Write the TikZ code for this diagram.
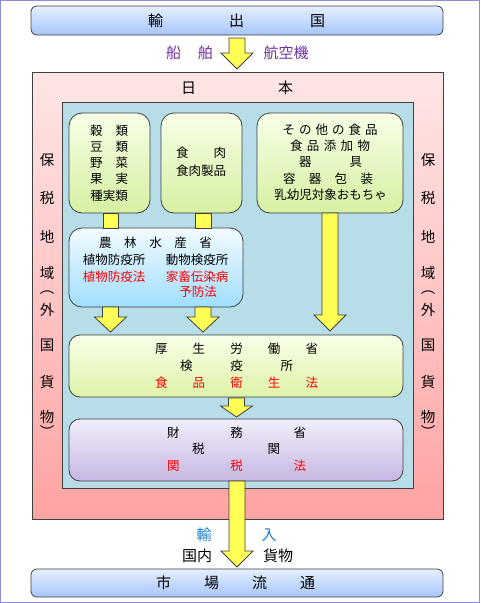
\documentclass[tikz,border=0pt]{standalone}
\usepackage{fontspec}
\setmainfont{Noto Sans CJK JP}
\definecolor{framecol}{HTML}{8C8CE6}
\definecolor{edge}{HTML}{404040}
\definecolor{titletop}{HTML}{E6EFFF}
\definecolor{titlebot}{HTML}{A6C6FA}
\definecolor{japtop}{HTML}{FFE6E6}
\definecolor{japbot}{HTML}{FFA3A3}
\definecolor{innerfill}{HTML}{B6DDE8}
\definecolor{greentop}{HTML}{F6FFE6}
\definecolor{greenbot}{HTML}{D6F0A2}
\definecolor{nongtop}{HTML}{F2FBFF}
\definecolor{nongbot}{HTML}{A0DEFF}
\definecolor{kotop}{HTML}{F8FFE8}
\definecolor{kobot}{HTML}{DEF3A8}
\definecolor{zatop}{HTML}{F2EEFB}
\definecolor{zabot}{HTML}{C7B6E3}
\definecolor{arrowfill}{HTML}{FFFF55}
\definecolor{lawred}{HTML}{FF0000}
\definecolor{shipcol}{HTML}{7030A0}
\definecolor{importcol}{HTML}{1A7CCF}
\tikzset{
  every node/.style={inner sep=0pt, outer sep=0pt},
  body/.style={font=\fontsize{12.5}{14}\selectfont},
  redtext/.style={body, text=lawred},
  big/.style={font=\fontsize{15}{17}\selectfont},
  side/.style={font=\fontsize{14.5}{16}\selectfont},
  titlebox/.style={draw=edge, line width=0.8pt, rounded corners=6pt, top color=titletop, bottom color=titlebot},
  areabox/.style={draw=edge, line width=0.8pt},
  greenbox/.style={draw=edge, line width=0.8pt, rounded corners=13pt, top color=greentop, bottom color=greenbot},
  nongbox/.style={draw=edge, line width=0.8pt, rounded corners=13pt, top color=nongtop, bottom color=nongbot},
  kobox/.style={draw=edge, line width=0.8pt, rounded corners=11pt, top color=kotop, bottom color=kobot},
  zabox/.style={draw=edge, line width=0.8pt, rounded corners=11pt, top color=zatop, bottom color=zabot},
  blockarrow/.style={draw=edge, line width=0.8pt, fill=arrowfill, line join=miter},
}
\newcommand\downarrowshape[4]{% center x, top y, head start y, tip y
  \draw[blockarrow] (#1-8,#2) -- (#1+8,#2) -- (#1+8,#3) -- (#1+16,#3) -- (#1,#4) -- (#1-16,#3) -- (#1-8,#3) -- cycle;}
\begin{document}
\begin{tikzpicture}[x=1pt,y=-1pt]
\useasboundingbox (0,0) rectangle (480,603);
\draw[framecol, line width=1.2pt] (0.6,0.6) rectangle (479.4,602.4);

% main boxes
\node[titlebox, minimum width=412pt, minimum height=29pt] (exporter) at (237,20.5) {};
\node[areabox, top color=japtop, bottom color=japbot, minimum width=411pt, minimum height=447pt] (japan) at (237.5,295.5) {};
\node[areabox, fill=innerfill, minimum width=351pt, minimum height=386pt] (inner) at (237.5,295) {};
\node[greenbox, minimum width=81pt, minimum height=100pt] (grain) at (109.5,163) {};
\node[greenbox, minimum width=81pt, minimum height=100pt] (meat) at (201.5,163) {};
\node[greenbox, minimum width=146pt, minimum height=100pt] (other) at (330,163) {};
\node[nongbox, minimum width=174pt, minimum height=79pt] (maff) at (156,267.5) {};
\node[kobox, minimum width=334pt, minimum height=62pt] (mhlw) at (236,366) {};
\node[zabox, minimum width=334pt, minimum height=62pt] (mof) at (236,450) {};
\node[titlebox, minimum width=412pt, minimum height=28pt] (market) at (237,583) {};

% texts
\node[big] (exportertext) at (236.5,21) {\makebox[177pt]{輸\hfill 出\hfill 国}};
\node[big] (markettext) at (235.5,583) {\makebox[159pt]{市\hfill 場\hfill 流\hfill 通}};
\node[big] (japantext) at (237,88) {\makebox[112pt]{日\hfill 本}};
\node[big, text=shipcol] (ship) at (189.5,53) {\makebox[47pt]{船\hfill 舶}};
\node[big, text=shipcol] (air) at (286,53) {航空機};
\node[big, text=importcol] (import) at (236.5,535) {\makebox[80pt]{輸\hfill 入}};
\node[big] (domestic) at (237.5,556) {\makebox[111pt]{国内\hfill 貨物}};

\node[body] (g1) at (109,131) {\makebox[38pt]{穀\hfill 類}};
\node[body] (g2) at (109,147) {\makebox[38pt]{豆\hfill 類}};
\node[body] (g3) at (109,163) {\makebox[38pt]{野\hfill 菜}};
\node[body] (g4) at (109,179) {\makebox[38pt]{果\hfill 実}};
\node[body] (g5) at (109,196) {種実類};

\node[body] (m1) at (201,153) {\makebox[50pt]{食\hfill 肉}};
\node[body] (m2) at (201,171) {食肉製品};

\node[body] (o1) at (330,130) {\makebox[95pt]{そ\hfill の\hfill 他\hfill の\hfill 食\hfill 品}};
\node[body] (o2) at (330,146) {\makebox[80pt]{食\hfill 品\hfill 添\hfill 加\hfill 物}};
\node[body] (o3) at (330.5,162) {\makebox[63pt]{器\hfill 具}};
\node[body] (o4) at (328,179) {\makebox[90pt]{容\hfill 器\hfill 包\hfill 装}};
\node[body] (o5) at (330.5,195) {乳幼児対象おもちゃ};

\node[body] (n1) at (155.5,243) {\makebox[113pt]{農\hfill 林\hfill 水\hfill 産\hfill 省}};
\node[body] (n2) at (114,260) {植物防疫所};
\node[body] (n3) at (197,260) {動物検疫所};
\node[redtext] (n4) at (114,277) {植物防疫法};
\node[redtext] (n5) at (197,277) {家畜伝染病};
\node[redtext] (n6) at (198,292) {予防法};

\node[body] (k1) at (236.5,349) {\makebox[163pt]{厚\hfill 生\hfill 労\hfill 働\hfill 省}};
\node[body] (k2) at (236.5,366) {\makebox[113pt]{検\hfill 疫\hfill 所}};
\node[redtext] (k3) at (236.5,383) {\makebox[163pt]{食\hfill 品\hfill 衛\hfill 生\hfill 法}};

\node[body] (z1) at (236.5,433) {\makebox[139pt]{財\hfill 務\hfill 省}};
\node[body] (z2) at (236,449) {\makebox[88pt]{税\hfill 関}};
\node[redtext] (z3) at (236.5,466) {\makebox[139pt]{関\hfill 税\hfill 法}};

% side labels
\foreach \xx/\nm in {47/L,428/R}{
  \foreach \ch/\yy/\i in {保/160/1,税/198/2,地/237/3,域/273/4,︵/293/5,外/310/6,国/345/7,貨/382/8,物/417/9,︶/431/10}{
    \node[side] (side\nm\i) at (\xx,\yy) {\ch};
  }
}

% connectors
\draw[blockarrow] (103,213) rectangle (118,228);
\draw[blockarrow] (195,213) rectangle (211,228);
\downarrowshape{237}{38}{53}{69}
\downarrowshape{110.5}{307}{317}{332}
\downarrowshape{203}{307}{317}{332}
\downarrowshape{330}{213}{315}{331}
\downarrowshape{236.5}{398}{406}{417}
\downarrowshape{237}{481}{551}{567}
\end{tikzpicture}
\end{document}
